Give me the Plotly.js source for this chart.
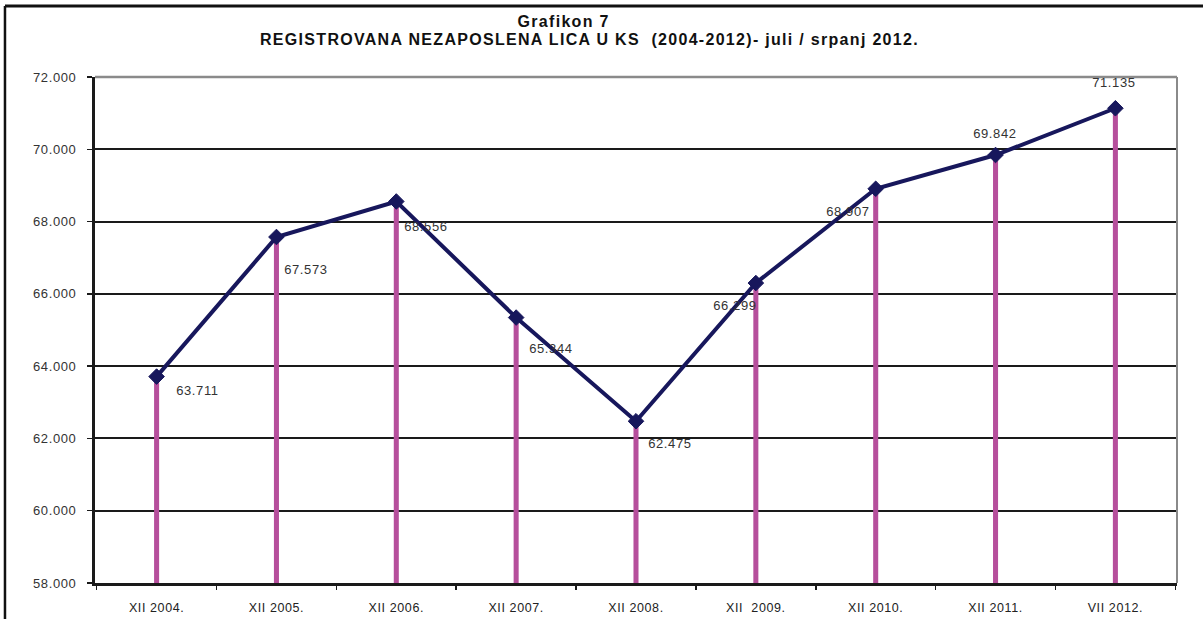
<!DOCTYPE html>
<html>
<head>
<meta charset="utf-8">
<script src="https://cdn.plot.ly/plotly-3.0.1.min.js"></script>
<style>
html,body{margin:0;padding:0;background:#fff;}
#chart{width:1203px;height:619px;}
#chart .gtitle{letter-spacing:1.3px;}
#chart .annotation-text{letter-spacing:0.6px;}
#chart .xtick text{letter-spacing:0.6px;}
#chart .ytick text{letter-spacing:0.6px;}
</style>
</head>
<body>
<div id="chart"></div>
<script>
// Data
const categories = ["XII 2004.", "XII 2005.", "XII 2006.", "XII 2007.", "XII 2008.", "XII  2009.", "XII 2010.", "XII 2011.", "VII 2012."];
const values = [63711, 67573, 68556, 65344, 62475, 66299, 68907, 69842, 71135];
const yTickValues = [58000, 60000, 62000, 64000, 66000, 68000, 70000, 72000];

// Label offsets in pixels (dx right, dy down) — styling only
const labelDx = [41, 30, 30, 35, 34, -21, -28, -1, -1];
const labelDy = [14, 32, 25, 31, 22, 22, 23, -22, -26];

const FONT = "Arial, 'Liberation Sans', sans-serif";

function fmt(v){ return (v/1000).toFixed(3); }

const bars = {
  type: 'bar',
  x: categories,
  y: values,
  width: 0.042,
  marker: {color: '#b64f9c', line: {width: 0}},
  hoverinfo: 'skip',
  showlegend: false
};

const line = {
  type: 'scatter',
  mode: 'lines+markers',
  x: categories,
  y: values,
  line: {color: '#17175c', width: 4},
  marker: {symbol: 'diamond', size: 12, color: '#17175c', line: {color: '#17175c', width: 1}},
  showlegend: false
};

const annotations = categories.map((c, i) => ({
  x: c, y: values[i], xref: 'x', yref: 'y',
  text: fmt(values[i]),
  showarrow: false,
  xshift: labelDx[i], yshift: -labelDy[i],
  font: {family: FONT, size: 13, color: '#333'}
}));

const layout = {
  width: 1203, height: 619,
  margin: {l: 95, r: 26, t: 77, b: 36, pad: 0},
  paper_bgcolor: '#fff', plot_bgcolor: '#fff',
  separators: ',.',
  font: {family: FONT, size: 12, color: '#222'},
  title: {
    text: '<span style="font-size:16px"><b>Grafikon 7&nbsp;&nbsp;&nbsp;&nbsp;&nbsp;&nbsp;&nbsp;&nbsp;&nbsp;</b></span><br><span style="font-size:16px"><b>REGISTROVANA NEZAPOSLENA LICA U KS &nbsp;(2004-2012)- juli / srpanj 2012.</b></span>',
    font: {family: FONT, size: 14, color: '#111'},
    xref: 'paper', x: 0.457, xanchor: 'center',
    yref: 'container', y: 0.957, yanchor: 'top'
  },
  barmode: 'overlay',
  xaxis: {
    type: 'category',
    showgrid: false,
    showline: true, linecolor: '#1a1a1a', linewidth: 3,
    ticks: 'outside', tickson: 'boundaries', ticklen: 4, tickcolor: '#1a1a1a', tickwidth: 1.5,
    tickfont: {family: FONT, size: 12.5, color: '#222'},
    ticklabelstandoff: 11,
    zeroline: false,
    fixedrange: true
  },
  yaxis: {
    range: [58000, 72000],
    tickvals: yTickValues,
    tickformat: ',d',
    showgrid: true, gridcolor: '#1a1a1a', gridwidth: 2,
    showline: true, linecolor: '#1a1a1a', linewidth: 3,
    ticks: 'outside', ticklen: 5, tickcolor: '#1a1a1a', tickwidth: 1.5,
    tickfont: {family: FONT, size: 13, color: '#333'},
    ticklabelstandoff: 8,
    zeroline: false,
    fixedrange: true
  },
  annotations: annotations,
  shapes: [
    {type: 'line', xref: 'paper', yref: 'paper', x0: 0, x1: 1, y0: 1, y1: 1, line: {color: '#8a8a8a', width: 2.5}, layer: 'above'},
    {type: 'line', xref: 'paper', yref: 'paper', x0: 1, x1: 1, y0: 0, y1: 1, line: {color: '#8a8a8a', width: 2}, layer: 'above'},
    {type: 'line', xref: 'paper', yref: 'paper', x0: -0.0832, x1: 1.05, y0: 1.1403, y1: 1.1403, line: {color: '#111', width: 3}, layer: 'above'},
    {type: 'line', xref: 'paper', yref: 'paper', x0: -0.0832, x1: -0.0832, y0: 1.1403, y1: -0.1, line: {color: '#111', width: 2.5}, layer: 'above'}
  ]
};

Plotly.newPlot('chart', [bars, line], layout, {displayModeBar: false, staticPlot: true});
</script>
</body>
</html>
